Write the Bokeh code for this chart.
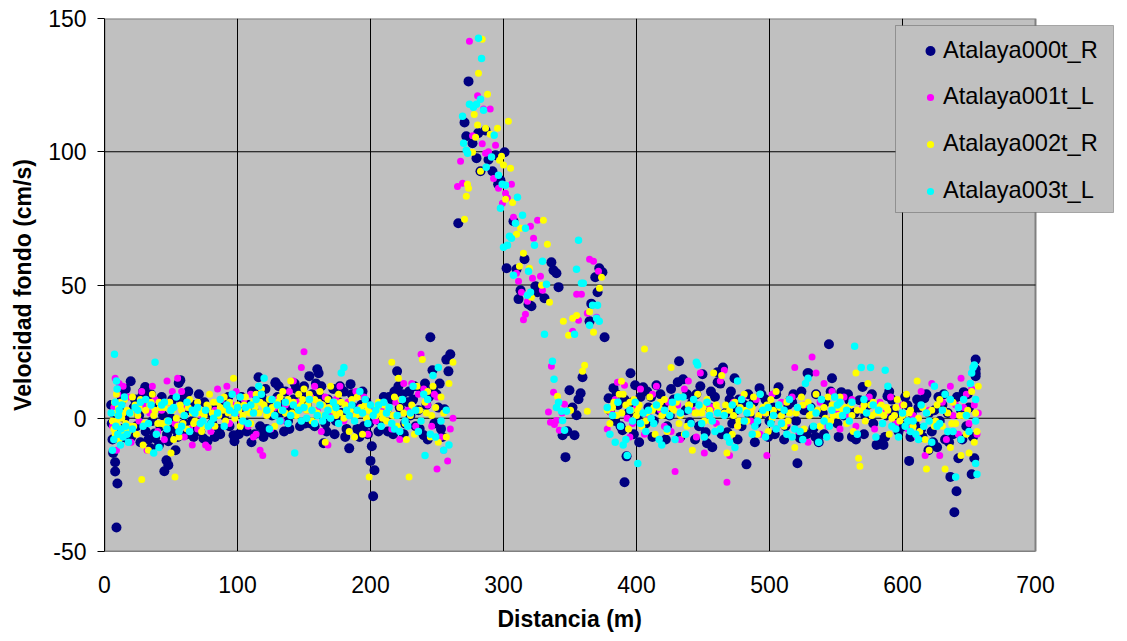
from bokeh.models import BoxAnnotation, ColumnDataSource, FixedTicker, Legend, LegendItem, Range1d, Title
from bokeh.plotting import figure
from bokeh.embed import file_html
from bokeh.resources import INLINE

names = ["Atalaya000t_R", "Atalaya001t_L", "Atalaya002t_R", "Atalaya003t_L"]
colors = ["#000080", "#FF00FF", "#FFFF00", "#00FFFF"]
x_ticks = [0, 100, 200, 300, 400, 500, 600, 700]
y_ticks = [-50, 0, 50, 100, 150]
x_title = "Distancia (m)"
y_title = "Velocidad fondo (cm/s)"

# (distance m, velocity cm/s)
serie_000 = [
 (5,5),(5.5,-2),(6,-8),(6.5,-13),(7,2),(8,-20),(8,-16.5),(9,-41),(9.7,-24.5),(10,-6),(11,3),(12,-4),(13,7),(14,-7),(15,0),(17,-5),(19.7,13.9),(20,-7),(22,4),(24,-3),(26,1),(28,8),(30.6,11.7),(31,-5),(33,-8),(34.6,-11.3),(36,-1),(37.6,-5.7),(38,-7.5),(40,4),(42,-3),(44,1),(45,-19.9),(46.6,-15.8),(48,-17.6),(48,-8.6),(50,0),(52,-4),(53.4,-12),(55.8,13.2),(57,14.3),(58,7),(60,-2),(62,-6),(64,3),(66,-1),(68,5),(70,-4),(72,-5),(74.4,-7.6),(77.4,-8.6),(79,2),(81,-2),(84,4),(86,-4),(88,6),(90,1),(92,3),(94,-3),(97,-6.4),(97.7,-8.6),(99,2),(102,4),(104,7),(106,-2),(108,5),(110.5,-9),(112,3),(114,9),(115.8,15.4),(117,-3),(119.5,-7),(120,-5),(122,-4),(124,6),(125,-5.3),(126,1),(128.6,13.1),(128.6,13.5),(130,8),(132,2),(134,6),(136,10),(138,-1),(140,3),(142,7),(144,11),(146,4),(148,9),(150,12),(152,5),(154,15.8),(156,9),(158,-3),(160,18.4),(161,16.9),(162,8),(164.7,-9.4),(166,-2),(168,7),(170,3),(172,11),(174,-1),(176,6),(178,2),(180,10),(182,-4),(184,-11.3),(185,12.8),(187,4),(189,9),(191.7,-7),(193,5),(195,-3),(197,6),(199,-2),(200,-16),(201,-10.5),(202,-29.3),(203,-19.5),(205,3),(207,-1),(209,5),(212,3),(214,8),(216,7),(218,10),(220,17.6),(222,4),(224,9),(226,-2),(228,6),(230,1),(232,7),(234,-3),(236,3),(238,11),(240,-6.4),(242,5),(244,8),(245,30.4),(246.6,18),(248,-2),(249.6,9),(251,4),(253,-4),(254,-7),(255.6,3.4),(257,22),(258.6,17.6),(260,24),
 (12,9),(16,11),(18,-8),(23,7),(27,-9),(29,10),(35,9),(41,-10),(43,8),(47,-6),(51,7),(55,-7),(61,8),(63,10),(67,-7),(71,9),(75,6),(83,-7),(87,-6),(93,8),(101,-6),(103,8),(107,-5),(111,10),(113,-6),(118,8),(121,11),(127,-6),(131,12),(135,-5),(139,-4),(143,13),(147,-3),(151,-2),(155,-2),(159,13),(163,12),(167,-5),(173,-6),(177,12),(181,-7),(186,9),(190,-4),(194,10),(198,-6),(206,-5),(210,8),(213,-5),(217,-6),(221,12),(225,-6),(229,10),(233,12),(237,-4),(241,13),(243,-8),(247,11),(252,13),
 (266,73.2),(270.7,111),(272,105.8),(273.7,126.4),(276.7,103.2),(279.7,97.6),(281,107),(282.7,92.7),(286.5,108),(288.7,97),(291.7,92.7),(294,98.7),(296,87.8),(297.7,89.3),(300.8,99.8),(302.3,56.3),(307.5,73.9),(309.8,55.9),(311.3,44.7),(312.8,48),(315.8,59.7),(318.8,42.8),(321,42),(324,49.5),(325.6,47.3),(330.8,45),(336,58.5),(337.6,55.5),(339.8,54.4),(341.4,49.2),(349.6,10.5),(351.9,4),(354.9,1.1),(356.4,7.1),(358,9.4),(359.4,15.4),(346.6,-14.6),(348,-4.9),(344.4,-6.4),(353.4,-6.4),(364.7,36.4),(366,43),(369,52.9),(370.7,47.3),(372,56.3),(374.4,54.8),(376,30.4),
 (379,7.5),(380,3),(382.7,11.3),(384,-1),(386,5),(388,-3),(389.5,-4.5),(391,-24),(392.5,-14.3),(394,2),(395.5,16.9),(397,6),(399,12.4),(401,1),(403,8),(405,11.6),(407,-2),(409,4),(411,8),(413,-1),(415,12.4),(417,3),(420,5),(423,-3),(425,1),(428,7),(431,13.5),(432,21.4),(435,14.6),(437,3),(440,-1.5),(442,6),(445,9),(447,-3),(449.6,16.5),(452,-5.3),(453,-9.4),(455,4),(457,-10.9),(459,8),(461,13.5),(461,17.3),(463,13),(465,19),(467,2),(468.4,-5.3),(470,7),(472,-2),(473.7,15),(475,3),(477,7),(479,-3),(481,5),(482.7,-17.3),(485,1),(488,6),(490,-2),(492.5,11.3),(495,2),(497,7),(500,-1),(503,4),(505,9),(506.8,11.6),(508,3),(510,2.6),(512,-3),(514,5),(515.8,6.8),(517,6),(520,-1),(521,-16.9),(523,-7),(523,-7.5),(526,3),(528.6,16.9),(529.4,16.9),(531,4),(533,-3.8),(534.6,-7),(537,-9),(540,2),(542,6),(544.7,27.8),(547,15),(549,3),(551,-2),(554,9.8),(556,1),(558,3),(560,6.8),(562,-7),(564,2),(567.7,6.8),(570,11.7),(572,1),(574,5),(576,8),(578,-2),(580.5,-10),(583.5,-9.4),(583.5,-8.3),(585.7,-10),(588,1),(588.7,8.3),(590,10),(593,3),(596,-2),(599,1),(601,-3),(603.7,4.9),(605,-16),(607,2),(609,-2),(612,4),(614,-4),(616.5,7.5),(619.5,-12),(620,2),(622,-5),(624,3),(626,-10.9),(628,-1),(630,5),(632,-8),(634,2),(636,-22),(638,-6),(639,-35.3),(640.6,-27.4),(642,-15),(644,3),(646,9.8),(648,-3),(650,4),(652,-21),(654,-15),(655,22),(655,18.4),(655,16.9),(655,15.8),
 (385,9),(391,7),(398,-6),(402,-9),(408,10),(412,-7),(418,9),(422,-8),(426,11),(433,-7),(438,9),(444,-8),(448,12),(456,10),(464,-6),(471,10),(476,-8),(484,9),(489,-9),(494,9),(499,-7),(504,-6),(511,-8),(518,9),(524,10),(528,-6),(535,9),(541,-6),(546,10),(552,-7),(559,9),(565,-8),(571,-6),(577,9),(587,-7),(592,7),(597,-5),(602,8),(606,-7),(611,7),(615,-7),(618,9),(623,-9),(627,8),(631,9),(635,-9),(641,8),(645,-8),(649,9),(653,-7),
]
serie_001 = [
 (6,-3),(7,4),(8,15),(9,-12),(10,9),(11,13),(12,-6),(13,1),(14,12),(16,-3),(18,8),(20,-9),(23,3),(26,-1),(28,10),(30,5),(32,-12),(34,2),(36,12),(38,7),(40,-5),(43,3),(45,-8),(47,14),(49,6),(51,10),(53,-2),(55,15),(58,10),(60,-7),(62,4),(64,-4),(66,-10),(68,2),(70,-4),(73,1),(76,-10),(78,-11),(80,-5),(83,3),(85,11),(88,7),(92,12),(94,-2),(96,5),(99,10),(101,2),(103,-2),(105,7),(108,-3),(110,9),(112,-7),(114,-6),(117,-12),(119,-14),(122,3),(125,-4),(128,4),(130,7),(133,-1),(136,5),(139,10),(142,14),(145,6),(148,19),(150,25),(152,3),(155,8),(158,12),(160,3),(163,-5),(166,8),(168,-10),(171,2),(174,7),(177,12),(180,-1),(183,6),(186,1),(189,10),(192,4),(195,8),(198,-6),(201,3),(204,-1),(208,4),(212,3),(216,-4),(219,6),(222,-8),(225,13),(228,3),(231,13),(234,-3),(236,9),(238,24),(240,11),(243,5),(246,-3),(248,9),(250,8),(253,-7),(255,-12),(258,-16),(260,-4),(250,-19),(262,0),
 (265.4,87),(267.7,96.4),(269.2,88.2),(274.4,141.5),(276.7,106),(280.5,121),(284,103),(286.5,99.4),(288.7,100),(290,116),(285,116),(292.5,90),(294,102.4),(296.2,86.3),(299.2,80.7),(301.5,84.4),(303,82.6),(306,87.8),(307.5,75.4),(309.8,54.4),(311.3,51.4),(313.5,47.3),(315,37),(316.5,39),(318,43.9),(320.3,72),(321.8,52.5),(322.6,67.5),(325.6,74.3),(327.8,53.3),(329.3,48),
 (333.8,2.3),(335.3,-1.5),(336,19.5),(337.6,9.8),(338.3,-2.3),(339.8,-0.8),(342,-4.5),(344,2),(345.9,5.3),(352,32.6),(355,46.5),(356.4,36.8),(358.6,46.5),(363,39.4),(364.7,59.7),(367.7,58.9),(370,37.9),(371.4,55.2),
 (378,-4),(381,2),(384,7),(385.7,13.5),(388,-3),(391,12.4),(393,0),(395,-7),(397,-2),(400,4),(403,11),(406,-6),(409,1),(412,9),(415,12),(418,3),(421,-3),(424,6),(426,-5),(429,-20),(431,5),(433,-8),(436,11),(439,14),(442,3),(445,-7),(448,17),(451,-13),(454,5),(457,4),(460,-2),(463,14),(466,18),(468,-24),(470,-14),(473,6),(476,-3),(480,8),(483,3),(486,-1),(490,7),(493,-6),(496,2),(498,-14),(502,9),(505,-4),(509,6),(513,-2),(517,8),(519,19),(522,-5),(526,5),(529,-9),(532,23),(535,17),(538,6),(541,13),(544,-3),(547,10),(550,3),(553,-4),(556,8),(559,1),(562,7),(565,-3),(570,4),(575,8),(579,-4),(583,6),(587,2),(591,8),(595,-2),(600,5),(604,-4),(608,1),(611,-7),(614,10),(617,-14),(620,3),(622,13),(625,-3),(628,-14),(630,6),(633,-8),(636,12),(638,1),(640,5),(642,-6),(644,15),(646,4),(648,9),(650,-2),(652,11),(654,5),(656,-6),(657,2),
]
serie_002 = [
 (6,-1),(7,-4),(7.5,6),(8,-6),(8.5,2),(9,9),(10,-3),(10.5,4),(11,-8),(12,6),(13,0),(14,-5),(15,7),(16,-2),(17,3),(18,-5),(20,2),(21,8),(22,-3),(23,5),(24,-6),(25,1),(27,7),(28,-23),(29,-10),(31,3),(33,-12),(35,6),(36,9),(38,3),(40,-2),(41,6),(43,-2),(45,4),(47,-1),(49,6),(50,-13),(52,-8),(53,-22),(55,-3),(56,-7),(58,3),(60,1),(62,-4),(64,7),(66,2),(68,-1),(70,6),(72,3),(73,-5),(75,1),(77,5),(79,9),(81,2),(83,-3),(85,6),(87,4),(90,8),(91,-1),(93,2),(95,4),(97,15),(100,5),(102,-3),(104,1),(106,8),(108,3),(110,-2),(112,6),(114,9),(116,2),(118,11),(120,5),(122,1),(124,7),(126,4),(128,-3),(130,6),(132,8),(134,10),(136,2),(138,7),(140,14),(142,6),(144,1),(146,9),(148,5),(150,11),(152,3),(154,9),(156,-1),(158,7),(160,2),(162,10),(164,5),(166,-9),(168,7),(170,12),(172,3),(174,1),(176,9),(178,6),(180,0),(182,3),(184,-5),(186,7),(188,-7),(190,8),(192,2),(194,-6),(196,5),(198,3),(199,-22),(204,1),(206,6),(208,2),(210,5),(212,-1),(214,4),(216,21),(218,8),(220,-3),(221,15),(223,7),(225,2),(227,-8),(229,-22),(231,5),(233,-6),(235,12),(237,3),(239,22),(241,6),(243,10),(245,-7),(247,12),(249,4),(251,-9),(253,8),(255,2),(257,-7),(259,13),(262,21),
 (9,-1),(11,5),(14,2),(19,-3),(26,4),(30,-2),(34,5),(37,1),(42,4),(46,-3),(51,3),(54,0),(57,5),(59,-2),(63,4),(67,-2),(71,2),(74,-3),(78,4),(82,6),(86,1),(89,3),(94,6),(98,0),(101,3),(105,5),(109,2),(113,4),(117,6),(121,3),(125,2),(129,5),(133,3),(137,6),(141,2),(145,4),(149,7),(153,5),(157,3),(161,6),(165,1),(169,4),(173,6),(177,2),(181,5),(185,3),(189,1),(193,4),(197,0),(201,2),(205,4),(209,0),(213,3),(217,1),(222,4),(226,-2),(230,1),(234,3),(238,-1),(242,2),(246,1),
 (270.7,74.7),(272,83.3),(272.9,87.8),(273.7,86.3),(276.7,99.8),(278,114),(279,105.4),(280.5,110),(281.2,129.5),(282.7,92.7),(284,142.2),(286.5,108.8),(288,121.6),(290,106.6),(295.5,108.8),(297,96.8),(298.5,98.3),(300,95),(301.5,82.2),(303.7,111.4),(305.3,93.8),(306.8,81),(309.8,69),(312,57),(312.8,71.3),(315,61.9),(319.5,56.3),(321,45.4),(328.6,49.9),(330,74.3),(333,65.3),(334.6,43.5),
 (340.6,8.3),(345,36.4),(348.9,31.1),(350.4,3),(352,37.5),(355,38.6),(359.4,17.6),(361,19.9),(363,2.6),(364.7,40),(367.7,32.3),(372.2,48.8),(373.7,52.9),
 (378,3),(380,-2),(383,6),(385,1),(387,9),(388.7,13.9),(390,9),(392,5),(394,-4),(396,3),(398,7),(400,1),(402,5),(404,-3),(406,26),(408,2),(410,8),(412,3),(414,-6),(417,4),(419,1),(421,7),(423,-5),(426,19),(428,3),(430,6),(432,-2),(434,8),(436,-6),(438,-3),(440,5),(442,-12),(444,2),(446,9),(449,2),(451,-1),(453,7),(455,3),(458,17),(460,5),(462,-4),(464,16),(466,2),(468,-13),(470,3),(472,-6),(474,6),(476,-3),(478,4),(481,9),(483,-1),(486,2),(488,8),(491,-6),(493,9),(495,4),(497,2),(499,-5),(501,7),(503,3),(505,10),(507,5),(509,1),(511,-3),(513,6),(515,2),(517,-7),(519,-11),(521,4),(524,8),(526,-4),(529,6),(532,2),(535,9),(538,-3),(541,4),(544,8),(546,-1),(548,1),(551,4),(553,8),(555,3),(558,-2),(561,5),(563,-5),(565,17),(567,-15),(568,-18),(570,3),(572,-1),(574,13),(576,5),(578,6),(580,2),(582,4),(584,5),(586,1),(588,4),(590,-6),(592,0),(594,1),(596,7),(598,-1),(601,5),(603,9),(605,2),(608,-3),(611,14),(613,-5),(615,4),(617,-8),(618,-19),(620,-12),(622,3),(624,-3),(626,5),(628,7),(630,-3),(632,-19),(634,2),(636,-11),(638,6),(640,-2),(642,4),(644,-14),(646,1),(648,-6),(650,-13),(652,10),(654,-9),(655,2),(656,-5),(657,12),
 (382,4),(389,2),(395,6),(401,3),(407,-1),(413,4),(418,6),(422,2),(427,4),(433,1),(439,5),(445,2),(450,4),(456,-1),(461,3),(467,5),(473,1),(477,-1),(482,3),(487,4),(492,1),(498,5),(502,0),(508,4),(514,-1),(520,2),(525,5),(530,1),(536,3),(542,0),(547,5),(552,1),(557,4),(562,1),(566,3),(571,5),(577,1),(583,2),(589,3),(595,4),(600,1),(606,3),(612,0),(619,2),(625,-1),(631,3),(637,-2),(643,1),(649,3),
]
serie_003 = [
 (5,2),(6,-12),(7,-8),(7.5,24),(8,6),(8.5,-3),(9,14),(9.5,11),(10,-6),(10.5,1),(11,3),(12,-10),(12.5,-4),(13,5),(14,-7),(15,8),(16,-3),(17,-6),(18,-9),(19,2),(21,-4),(23,4),(25,3),(27,6),(29,-3),(31,7),(33,-2),(35,5),(37,-13),(38,21),(39,-6),(41,-11),(43,5),(45,6),(47,-4),(48,-1),(50,3),(52,4),(54,8),(56,-5),(58,-3),(60,1),(62,6),(64,-5),(66,3),(68,2),(70,4),(72,-2),(74,-1),(76,3),(78,-3),(80,-2),(82,0),(85,2),(87,7),(90,-3),(92,5),(94,3),(96,9),(98,2),(100,4),(102,8),(104,-1),(106,4),(108,-2),(110,5),(112,2),(114,7),(116,12),(118,9),(120,15),(122,3),(124,-4),(126,7),(128,1),(130,5),(132,-1),(134,3),(136,6),(138,-2),(140,1),(142,5),(143,-13),(146,3),(148,-1),(150,4),(152,0),(154,7),(156,3),(158,-2),(160,1),(162,5),(164,-1),(166,1),(168,3),(170,0),(172,6),(174,4),(176,-2),(178,17),(180,19),(182,3),(184,1),(186,5),(188,-1),(190,3),(192,10),(194,2),(196,7),(198,-2),(200,5),(202,1),(204,3),(206,5),(208,-3),(210,6),(212,2),(214,4),(216,-2),(218,-4),(220,1),(222,-5),(224,7),(226,-1),(228,-3),(230,2),(232,12),(234,3),(236,-5),(238,-1),(240,9),(241,-14),(243,7),(245,-6),(247,16),(249,-7),(251,19),(253,-1),(255,-12),(257,3),(259,-10),
 (269.2,113.3),(270,103.2),(272,100.6),(273,99.4),(274.4,117.8),(277.4,116.7),(279.7,117.8),(281.2,142.6),(282.7,119.7),(283.5,135),(285,115.6),(287,94.2),(291,98),(293,106.2),(296.2,91.2),(297.7,78.8),(299,87.8),(300,64.2),(301.5,87.4),(303,64.9),(304.5,68.3),(306,67.5),(307.5,53.7),(309,73.2),(310.5,82.9),(314.3,76.2),(316.5,71.3),(318,46.2),(318.8,55.2),(320.3,47.3),(323.3,64.9),(329.3,58.9),(330.8,31.5),(332.3,50.3),
 (336.8,21.4),(338,14.6),(339.8,4),(341.4,6),(343.6,2.6),(344.4,-0.8),(345.9,-4.5),(347.4,2.6),(353.4,31.5),(354.9,55.9),(356.4,66.8),(358.6,50.7),(360,50.7),(364.7,34.9),(367,42.4),(370,37.5),(370.7,42.4),(372,36.4),
 (378,4),(380,-6),(382,1),(384,-9),(386,6),(388,-3),(390,-10),(392,-8),(393,-14),(395,3),(397,-1),(399,6),(401,-17),(403,-2),(405,2),(407,-5),(409,3),(411,0),(413,-2),(415,5),(417,-8),(419,-10),(421,3),(423,-4),(425,1),(427,6),(429,-8),(431,8),(433,2),(435,8),(437,-6),(439,3),(441,-2),(443,7),(445,21),(446,20),(447,5),(449,-2),(451,-7),(453,6),(455,1),(457,-1),(459,-5),(461,2),(463,-4),(466,1),(468,-7),(470,-9),(472,5),(474,-11),(476,14),(477,3),(479,7),(481,-1),(483,2),(485,5),(487,-6),(489,-3),(491,-1),(493,9),(495,3),(497,-7),(499,4),(501,-2),(503,1),(505,-4),(507,5),(509,-2),(511,3),(513,-6),(515,7),(517,-7),(519,-4),(521,4),(523,-5),(525,-8),(527,13),(529,15),(531,4),(533,-3),(535,2),(537,-9),(539,7),(541,-1),(543,-7),(545,-3),(547,3),(549,8),(551,5),(553,6),(555,1),(558,3),(560,-1),(562,6),(564,27),(566,-6),(569,19),(571,7),(573,2),(576,19),(578,5),(580,-7),(582,3),(585,-2),(587,18),(589,12),(592,-3),(595,-4),(597,-7),(600,2),(602,-3),(604,-1),(606,-5),(608,-1),(610,-6),(612,-8),(614,5),(616,-3),(618,2),(620,-1),(622,-9),(624,12),(626,-3),(628,-2),(630,3),(632,9),(634,-5),(636,7),(638,-5),(640,-22),(642,4),(644,-8),(646,7),(648,1),(650,-5),(651,13),(652,17),(653,19),(654,20),(655,-1),(655,7),(655,-17),(656,-21),
]

# The frame runs past x=700 so that the legend box, which overhangs the plot area, is not clipped.
p = figure(width=1120, height=640, x_range=Range1d(0, 700 * 1011 / 931), y_range=Range1d(-50, 150),
           min_border_left=104, min_border_top=18, min_border_right=5, min_border_bottom=89,
           background_fill_color="white", border_fill_color="white",
           outline_line_color=None,
           output_backend="svg", toolbar_location=None)

p.grid.visible = False
p.xaxis.ticker = FixedTicker(ticks=x_ticks)
p.yaxis.ticker = FixedTicker(ticks=y_ticks)
p.yaxis.major_label_overrides = {t: str(t) for t in y_ticks}
p.xaxis.bounds = (x_ticks[0], x_ticks[-1])
p.yaxis.axis_label = y_title
for ax in (p.xaxis[0], p.yaxis[0]):
    ax.axis_label_text_font = "Liberation Sans"
    ax.axis_label_text_font_style = "bold"
    ax.axis_label_text_font_size = "23px"
    ax.axis_label_text_color = "black"
    ax.major_label_text_font = "Liberation Sans"
    ax.major_label_text_font_size = "23px"
    ax.major_label_text_color = "black"
    ax.minor_tick_line_color = None
p.xaxis.axis_line_color = "#808080"
p.xaxis.major_tick_line_color = None
p.xaxis.major_label_standoff = 18
p.yaxis.axis_line_color = "black"
p.yaxis.major_tick_line_color = "black"
p.yaxis.major_tick_in = 0
p.yaxis.major_tick_out = 7
p.yaxis.major_label_standoff = 11
p.yaxis.axis_label_standoff = 9

p.add_layout(Title(text=x_title, align="left", offset=393, standoff=17, vertical_align="bottom",
                   text_font="Liberation Sans", text_font_style="bold", text_font_size="23px", text_color="black"),
             "below")

# plot area and its grid, limited to the axis extents
p.quad(left=[x_ticks[0]], right=[x_ticks[-1]], bottom=[y_ticks[0]], top=[y_ticks[-1]],
       fill_color="#C0C0C0", line_color="#808080", line_width=2)
p.segment(x0=x_ticks[1:-1], x1=x_ticks[1:-1], y0=[y_ticks[0]] * 6, y1=[y_ticks[-1]] * 6, line_color="black", line_width=1)
p.segment(x0=[x_ticks[0]] * 3, x1=[x_ticks[-1]] * 3, y0=y_ticks[1:-1], y1=y_ticks[1:-1], line_color="black", line_width=1)

renderers = []
for serie, name, color, size in zip([serie_000, serie_001, serie_002, serie_003], names, colors, [10, 7, 7, 7.5]):
    xs, ys = zip(*serie)
    src = ColumnDataSource(dict(x=list(xs), y=list(ys)))
    renderers.append(p.scatter("x", "y", source=src, size=size, color=color, line_color=None))

p.add_layout(BoxAnnotation(left=895, right=1113, top=25, bottom=212,
                           left_units="canvas", right_units="canvas", top_units="canvas", bottom_units="canvas",
                           fill_color="#C0C0C0", fill_alpha=1, line_color="#222222", line_width=1))

def make_legend(indices, glyph_h, loc):
    items = [LegendItem(label=names[i], renderers=[renderers[i]]) for i in indices]
    return Legend(items=items, location=loc, margin=0, padding=0, spacing=20,
                  glyph_width=26, glyph_height=glyph_h, label_height=20, label_standoff=0,
                  label_text_font="Liberation Sans", label_text_font_size="23.6px", label_text_color="black",
                  background_fill_alpha=0, border_line_color=None)

p.add_layout(make_legend([0], 25, (813, 487)))
p.add_layout(make_legend([1, 2, 3], 18, (813, 347)))

open("out.html", "w").write(file_html(p, INLINE))
